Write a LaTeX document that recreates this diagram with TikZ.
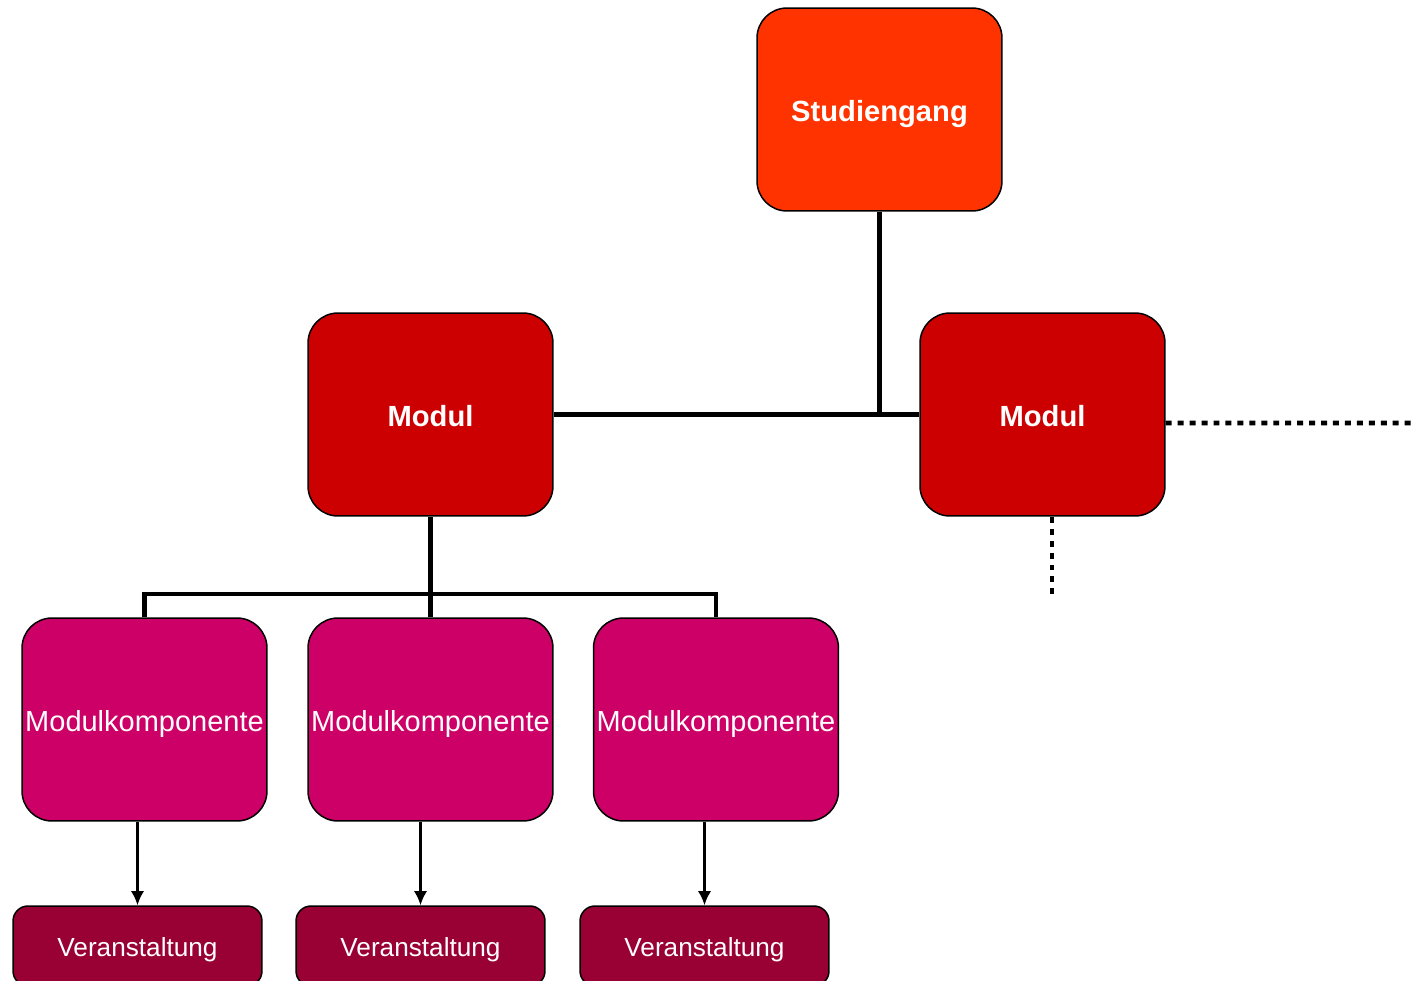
\documentclass[tikz,border=0pt]{standalone}
\usepackage{fontspec}
\setmainfont{Liberation Sans}
\usepackage{tikz}
\usetikzlibrary{arrows.meta}
\definecolor{studred}{HTML}{FF3300}
\definecolor{modred}{HTML}{CC0000}
\definecolor{komppink}{HTML}{CC0066}
\definecolor{verwine}{HTML}{990033}
\tikzset{
  >={Latex[length=8pt,width=7.5pt]},
}
\tikzstyle{box}=[draw=black,line width=0.85pt,text=white,minimum width=4.9cm,minimum height=4.06cm,rounded corners=0.6cm,inner sep=0pt,text depth=0pt]
\tikzstyle{studbox}=[box,fill=studred,text height=14.2pt,font=\fontsize{16.6}{19}\selectfont\bfseries]
\tikzstyle{modbox}=[box,fill=modred,text height=14.2pt,font=\fontsize{16.6}{19}\selectfont\bfseries]
\tikzstyle{kompbox}=[box,fill=komppink,text height=14.1pt,font=\fontsize{16.5}{19}\selectfont]
\tikzstyle{verbox}=[box,fill=verwine,minimum width=4.98cm,minimum height=1.6cm,rounded corners=0.3cm,text height=11.8pt,font=\fontsize{14.9}{17}\selectfont]
\tikzstyle{bar}=[line width=2.6pt]
\tikzstyle{dotline}=[line width=2.8pt,dash pattern=on 3.4pt off 3.4pt]
\tikzstyle{arr}=[line width=1.3pt,->]

\begin{document}
\begin{tikzpicture}[x=0.02cm,y=-0.02cm]
    \useasboundingbox (0,0) rectangle (1414,981);
    % boxes
    \node[studbox] (stud) at (879.5,109.5) {Studiengang};
    \node[modbox] (modA) at (430.5,414.5) {Modul};
    \node[modbox] (modB) at (1042.5,414.5) {Modul};
    \node[kompbox] (komp1) at (144.5,719.5) {Modulkomponente};
    \node[kompbox] (komp2) at (430.5,719.5) {Modulkomponente};
    \node[kompbox] (komp3) at (716,719.5) {Modulkomponente};
    \node[verbox] (ver1) at (137.5,946) {Veranstaltung};
    \node[verbox] (ver2) at (420.5,946) {Veranstaltung};
    \node[verbox] (ver3) at (704.5,946) {Veranstaltung};
    % tree lines
    \coordinate (bus) at (430.5,594);
    \draw[bar] (stud.south) -- (stud.south |- modA.east);
    \draw[bar] (modA.east) -- (modB.west);
    \draw[bar] (modA.south) -- (komp2.north);
    \draw[bar] (komp1.north) |- (bus) -| (komp3.north);
    % continuation
    \coordinate (moreR) at (1414,423);
    \coordinate (moreD) at (1052,600);
    \draw[dotline] ([yshift=-0.17cm]modB.east) -- (moreR);
    \draw[dotline] (moreD |- modB.south) -- (moreD);
    % arrows
    \foreach \i in {1,2,3}
      \draw[arr] (ver\i.north |- komp\i.south) -- (ver\i.north);
\end{tikzpicture}
\end{document}
